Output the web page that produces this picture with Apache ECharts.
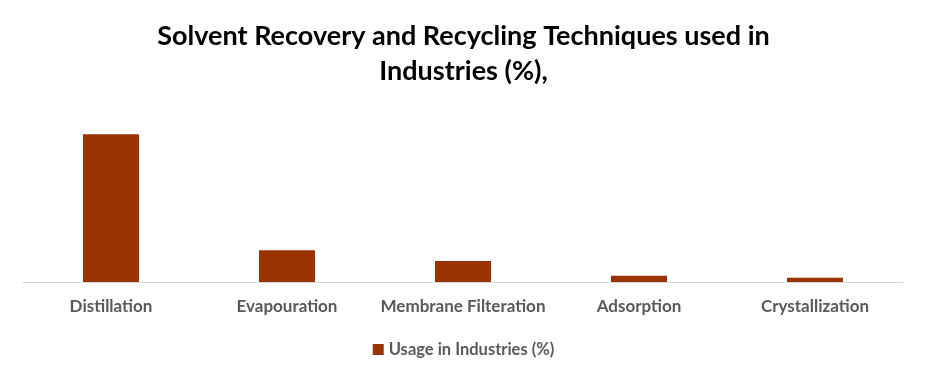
<!DOCTYPE html>
<html><head><meta charset="utf-8">
<script src="https://cdn.jsdelivr.net/npm/echarts@6/dist/echarts.min.js"></script>
<style>html,body{margin:0;padding:0;background:#fff}#c{width:927px;height:378px}</style>
</head><body><div id="c"></div>
<script>
const categories = ["Distillation", "Evapouration", "Membrane Filteration", "Adsorption", "Crystallization"];
const usageValues = [70, 15, 10, 3, 2];
const seriesName = "Usage in Industries (%)";
const titleText = "Solvent Recovery and Recycling Techniques used in\nIndustries (%),";

const chart = echarts.init(document.getElementById('c'));
chart.setOption({
  animation: false,
  backgroundColor: '#ffffff',
  title: {
    text: titleText,
    left: 'center',
    top: 14,
    textStyle: {fontFamily: 'Lato', fontWeight: 'bold', fontSize: 27, color: '#000', lineHeight: 35}
  },
  legend: {
    bottom: 15,
    left: 'center',
    itemWidth: 11, itemHeight: 11, icon: 'rect', itemGap: 6,
    textStyle: {fontFamily: 'Lato', fontWeight: 'bold', fontSize: 16.5, color: '#595959'},
    data: [seriesName]
  },
  grid: {left: 23, right: 24, top: 113, bottom: 96},
  xAxis: {
    type: 'category',
    data: categories,
    axisLine: {lineStyle: {color: '#d9d9d9', width: 1}},
    axisTick: {show: false},
    axisLabel: {fontFamily: 'Lato', fontWeight: 'bold', fontSize: 17, color: '#595959', margin: 16, interval: 0}
  },
  yAxis: {
    type: 'value', min: 0, max: 80, show: false, splitLine: {show: false}
  },
  series: [{
    name: seriesName,
    type: 'bar',
    data: usageValues,
    barWidth: 56,
    itemStyle: {color: '#993300'}
  }]
});
</script></body></html>
